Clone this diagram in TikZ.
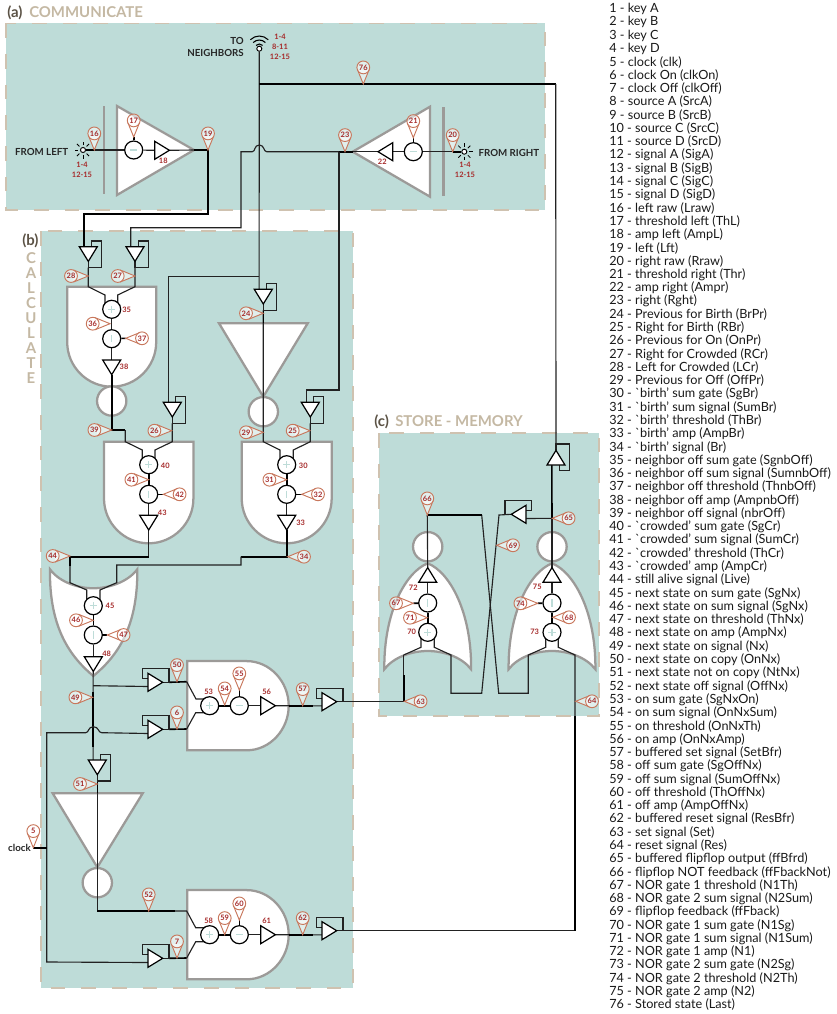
\documentclass[tikz,border=0pt]{standalone}
\usepackage{fontspec}
\setmainfont{Lato}
\usetikzlibrary{calc}
\definecolor{panelc}{HTML}{BEDCD8}
\definecolor{dashc}{HTML}{CFC2B0}
\definecolor{grayg}{HTML}{9C9A98}
\definecolor{pinc}{HTML}{C8775C}
\definecolor{pintxt}{HTML}{A62B2B}
\definecolor{headd}{HTML}{5B5245}
\definecolor{headl}{HTML}{C4B8A3}
\definecolor{wirec}{HTML}{222222}
\pgfdeclarelayer{panel}\pgfdeclarelayer{gates}\pgfdeclarelayer{wires}
\pgfsetlayers{panel,gates,wires,main}
\tikzset{
 panelbox/.style={fill=panelc,draw=dashc,line width=1.2pt,dash pattern=on 11pt off 12pt},
 gatebox/.style={draw=grayg,fill=white,line width=1.7pt,line join=miter},
 bar/.style={draw=grayg,line width=2pt},
 hollow/.style={circle,draw=grayg,fill=white,line width=1.7pt,minimum size=22pt,inner sep=0pt},
 wire/.style={draw=wirec,line width=.85pt,line join=miter},
 bwire/.style={draw=black,line width=1.2pt,line join=miter},
 ampt/.style={draw=black,fill=white,line width=.9pt,line join=miter},
 sumn/.style={circle,draw=black,fill=white,line width=.9pt,minimum size=13.5pt,inner sep=0pt},
 signl/.style={draw=panelc,line width=.8pt},
 pinnode/.style={circle,draw=pinc,fill=white,fill opacity=.55,text opacity=1,line width=.7pt,minimum size=9.6pt,inner sep=0pt,text=pintxt,font=\fontsize{5.6}{6}\selectfont\bfseries},
 pinfill/.style={fill=white,fill opacity=.55},
 pintri/.style={draw=pinc,line width=.7pt,line join=miter},
 redlab/.style={text=pintxt,font=\fontsize{5.6}{6.5}\selectfont\bfseries,inner sep=0pt},
 blklab/.style={text=black!85,font=\fontsize{7.3}{8}\selectfont\bfseries,inner sep=0pt},
 legendt/.style={anchor=west,inner sep=0pt,text=black!90,font=\fontsize{9.5}{10}\selectfont},
 headt/.style={anchor=west,inner sep=0pt,font=\fontsize{11.2}{12}\selectfont\bfseries},
 srcn/.style={circle,draw=black,fill=white,line width=.7pt,minimum size=3.8pt,inner sep=0pt},
}
% feedback amplifier: name x y transform
\newcommand\fbamp[4]{\begin{scope}[shift={(#2,#3)},#4]
 \coordinate (#1-i) at (0,0);\coordinate (#1-a) at (-4.2,0);\coordinate (#1-o) at (0,14.7);\coordinate (#1-f) at (0,21);
 \draw[wire] (3.4,0) -- (3.4,-5.7) -- (13.4,-5.7) -- (13.4,21) -- (0,21) -- (0,14.7);
 \draw[ampt] (-9,0) -- (9,0) -- (0,14.7) -- cycle;
\end{scope}}
% plain amplifier
\newcommand\plamp[4]{\begin{scope}[shift={(#2,#3)},#4]
 \coordinate (#1-i) at (0,0);\coordinate (#1-o) at (0,14.7);
 \draw[ampt] (-9,0) -- (9,0) -- (0,14.7) -- cycle;
\end{scope}}
\newcommand\sump[3]{\node[sumn] (#1) at (#2,#3) {};\draw[signl] ($(#1)+(-3.7,0)$) -- ($(#1)+(3.7,0)$) ($(#1)+(0,-3.7)$) -- ($(#1)+(0,3.7)$);}
\newcommand\summ[3]{\node[sumn] (#1) at (#2,#3) {};\draw[signl] ($(#1)+(-3.7,0)$) -- ($(#1)+(3.7,0)$);}
\newcommand\sumb[3]{\node[sumn] (#1) at (#2,#3) {};\draw[signl] ($(#1)+(0,-3.7)$) -- ($(#1)+(0,3.7)$);}
% pin: number, tip x, tip y, centre dx, centre dy
\newcommand\pin[5]{\coordinate (t#1) at (#2,#3);
 \coordinate (ta#1) at ($(t#1)+({.858*(#4)-.349*(#5)},{.858*(#5)+.349*(#4)})$);
 \coordinate (tb#1) at ($(t#1)+({.858*(#4)+.349*(#5)},{.858*(#5)-.349*(#4)})$);
 \path[pinfill] (t#1) -- (ta#1) -- (tb#1) -- cycle;
 \path[pintri] (ta#1) -- (t#1) -- (tb#1);
 \node[pinnode] (p#1) at ($(t#1)+(#4,#5)$) {#1};}
\newcommand\pinU[3]{\pin{#1}{#2}{#3}{0}{-16.6}}
\newcommand\pinL[3]{\pin{#1}{#2}{#3}{-17.3}{0}}
\newcommand\pinR[3]{\pin{#1}{#2}{#3}{16.3}{0}}
% U gate: centre x, top, half width, total height
\newcommand\ugate[4]{\pgfmathsetmacro\ul{#1-#3}\pgfmathsetmacro\ur{#1+#3}\pgfmathsetmacro\um{#2+#4-#3}\pgfmathsetmacro\ub{#2+#4}\pgfmathsetmacro\uk{.55*#3}
 \draw[gatebox] (\ul,#2) -- (\ur,#2) -- (\ur,\um) .. controls (\ur,\um+\uk) and (#1+\uk,\ub) .. (#1,\ub) .. controls (#1-\uk,\ub) and (\ul,\um+\uk) .. (\ul,\um) -- cycle;}
% AND gate facing right: centre y
\newcommand\andgate[1]{\draw[gatebox] (187.3,#1-44.6) -- (246.7,#1-44.6) .. controls (270,#1-44.6) and (288.7,#1-24) .. (288.7,#1) .. controls (288.7,#1+24) and (270,#1+44.6) .. (246.7,#1+44.6) -- (187.3,#1+44.6) -- cycle;}
% NOR gate pointing up: centre x
\newcommand\norgate[1]{\draw[gatebox] (#1,563.3) .. controls (#1-22,572) and (#1-44,612) .. (#1-43.4,669.3) .. controls (#1-34,657) and (#1-16,651) .. (#1,651) .. controls (#1+16,651) and (#1+34,657) .. (#1+43.4,669.3) .. controls (#1+44,612) and (#1+22,572) .. (#1,563.3) -- cycle;}
\newcommand\lightsrc[3]{\node[srcn] (#1) at (#2,#3) {};
 \foreach \ra in {0,45,...,315}{\draw[draw=black,line width=.6pt] ($(#1)+(\ra:5)$) -- ($(#1)+(\ra:8.5)$);}}
\begin{document}
\begin{tikzpicture}[x=.75pt,y=-.75pt]
\useasboundingbox (0,0) rectangle (836,1014);
% ---------- panels ----------
\begin{pgfonlayer}{panel}
\path[panelbox] (6,23.3) rectangle (545,210);
\path[panelbox] (41,231) rectangle (352.7,988);
\path[panelbox] (379,433) rectangle (599,716);
\end{pgfonlayer}
\node[headt,text=headd] (ha) at (7,12.5) {(a)};
\node[headt,text=headl] (hat) at (29,12.5) {COMMUNICATE};
\node[headt,text=headd] (hb) at (22,240.5) {(b)};
\foreach \ch [count=\ci] in {C,A,L,C,U,L,A,T,E}{
 \node[inner sep=0pt,text=headl,font=\fontsize{11.2}{12}\selectfont\bfseries] (vc\ci) at (31,243+15*\ci) {\ch};}
\node[headt,text=headd] (hc) at (374,421.5) {(c)};
\node[headt,text=headl] (hct) at (395,421.5) {STORE - MEMORY};
% ---------- gates ----------
\begin{pgfonlayer}{gates}
\draw[gatebox] (117,106) -- (194,150) -- (117,195) -- cycle;
\draw[bar] (104,106) -- (104,194);
\draw[gatebox] (430,106.7) -- (352.7,151.7) -- (430,196.7) -- cycle;
\draw[bar] (443.3,107) -- (443.3,196);
\ugate{111.7}{286.7}{44.5}{100}
\node[hollow] (h35) at (111.7,401) {};
\ugate{148.7}{441.7}{44.7}{101.6}
\ugate{286.7}{441.7}{45}{101.6}
\draw[gatebox] (219,323.3) -- (307.7,323.3) -- (263.3,396.7) -- cycle;
\node[hollow] (h24) at (263.3,411.7) {};
\draw[gatebox] (50,569.3) .. controls (60,583) and (80,588.3) .. (93.3,588.3) .. controls (107,588.3) and (127,583) .. (137.3,569.3) .. controls (138,630) and (115,658) .. (93.3,676) .. controls (72,658) and (49,630) .. (50,569.3) -- cycle;
\andgate{705.7}
\draw[gatebox] (52.7,793.3) -- (142.7,793.3) -- (97.3,867.3) -- cycle;
\node[hollow] (h51) at (97.3,882.7) {};
\andgate{934.7}
\norgate{427.7}
\norgate{552}
\node[hollow] (h72) at (427.7,546.7) {};
\node[hollow] (h75) at (552,546.7) {};
\end{pgfonlayer}
% ---------- components ----------
\lightsrc{srcL}{83}{150}
\lightsrc{srcR}{464.3}{151.7}
\summ{s17}{133.7}{150}
\plamp{a18}{154.7}{150.3}{rotate=90}
\coordinate (apL) at (194,150);
\coordinate (apR) at (352.7,151.7);
\summ{s21}{413.3}{151.7}
\plamp{a22}{392.7}{151.7}{rotate=-90}
\node[srcn] (ant) at (259.3,48.7) {};
\foreach \rr in {3.5,6.5,9.5}{\draw[draw=black,line width=.8pt] ([shift={(45:\rr pt)}]ant) arc[start angle=45,end angle=135,radius=\rr pt];}
\fbamp{a28}{88.3}{246.7}{}
\fbamp{a27}{135}{246.7}{}
\fbamp{a24}{263.3}{289.3}{}
\fbamp{a26}{172.3}{402.3}{}
\fbamp{a25}{310.3}{402.3}{}
\fbamp{a50}{148}{682.3}{rotate=90}
\fbamp{a6}{148}{729.3}{rotate=90}
\fbamp{a57}{322}{701.7}{rotate=90}
\fbamp{a51}{97.3}{760}{}
\fbamp{a7}{148}{958.3}{rotate=90}
\fbamp{a62}{322}{930.7}{rotate=90}
\fbamp{a65}{556}{465}{rotate=180,xscale=-1}
\fbamp{a69}{526}{514.3}{rotate=-90,xscale=-1}
\sump{s35}{111.7}{309.3}
\sumb{s37}{111.7}{338.7}
\plamp{a38}{111.7}{360}{}
\sump{s40}{148.7}{464.7}
\sumb{s42}{148.7}{494.3}
\plamp{a43}{148.7}{515.3}{}
\sump{s30}{286.7}{464.7}
\sumb{s32}{286.7}{494.3}
\plamp{a33}{286.7}{515.3}{}
\sump{s45}{93.3}{605.7}
\sumb{s47}{93.3}{635}
\plamp{a48}{93.3}{656.7}{}
\sump{s53}{209.7}{705.7}
\summ{s55}{239.3}{705.7}
\plamp{a56}{260.7}{705.7}{rotate=90}
\sump{s58}{209.7}{934.7}
\summ{s60}{239.3}{934.7}
\plamp{a61}{260.7}{934.7}{rotate=90}
\sump{s70}{427.7}{632.3}
\sumb{s67}{427.7}{603}
\plamp{a72}{427.7}{582.3}{rotate=180}
\sump{s73}{552}{632.3}
\sumb{s74}{552}{603}
\plamp{a75}{552}{582.3}{rotate=180}
% ---------- pins ----------
\pinU{16}{94.3}{150}
\pinU{17}{133.7}{137}
\pinU{19}{208}{150}
\pinU{20}{452.7}{151.7}
\pinU{21}{413.3}{137.7}
\pinU{23}{345}{151.7}
\pinU{76}{363.3}{84}
\pinL{28}{88.3}{276}
\pinL{27}{135}{276}
\pinL{36}{110}{323.7}
\pinR{37}{125.7}{338.3}
\pinL{24}{263.3}{313.3}
\pinL{39}{111.7}{430}
\pinL{26}{171.7}{430.7}
\pinL{29}{263.3}{432.3}
\pinL{25}{310}{430.7}
\pinL{41}{148.7}{479.7}
\pinL{31}{286.7}{479.7}
\pinR{42}{163.3}{494.3}
\pinR{32}{301.7}{494.3}
\pinL{44}{70}{556}
\pinR{34}{287.7}{556.7}
\pinL{46}{93.3}{620.3}
\pinR{47}{107.3}{635}
\pinL{49}{92.7}{697.3}
\pinU{50}{177}{681.7}
\pinU{6}{177}{729}
\pinU{54}{224.7}{705}
\pinU{55}{239.3}{690}
\pinU{57}{302.7}{705.7}
\pinL{51}{97.3}{784}
\pinU{5}{33.3}{847.7}
\pinU{52}{148.7}{911}
\pinU{59}{224.7}{934.7}
\pinU{60}{239.3}{920}
\pinU{62}{302.7}{934.7}
\pinU{7}{177}{958}
\pinU{66}{427.3}{515}
\pinR{69}{496.7}{545.3}
\pinR{65}{552.3}{518.3}
\pinL{67}{413.3}{603.3}
\pinL{71}{427.3}{617.7}
\pinL{74}{537.7}{603.3}
\pinR{68}{552.7}{617.3}
\pinR{63}{404.3}{701.3}
\pinR{64}{575.7}{701.3}
% ---------- wires ----------
\begin{pgfonlayer}{wires}
\draw[wire] (srcL) -- (s17);
\draw[wire] (s17) -- (a18-i);
\draw[wire] (a18-o) -- (apL);
\draw[bwire] (t17) -- (s17);
\draw[bwire] (srcL) -- (t16);
\draw[bwire] (apL) -- (t19) -- (208,214) -- (84.1,214) -- (a28-a);
\draw[wire] (srcR) -- (s21);
\draw[wire] (s21) -- (a22-i);
\draw[wire] (a22-o) -- (apR);
\draw[bwire] (t21) -- (s21);
\draw[bwire] (srcR) -- (t20);
\draw[wire] (apR) -- (339,151.7) -- (266.7,151.7) .. controls (263.5,151.7) and (264.5,145) .. (259.3,145) .. controls (254,145) and (255.5,151.7) .. (252.3,151.7) -- (241,151.7) -- (241,227.7) -- (130.8,227.7) -- (a27-a);
\draw[bwire] (apR) -- (339,151.7);
\draw[wire] (339,151.7) -- (339,390) -- (306.1,390) -- (a25-a);
\draw[wire] (ant) -- (a24-a);
\draw[bwire] (259.1,84) -- (555.7,84);
\draw[wire] (555.7,84) -- (a65-o);
\draw[wire] (259.1,276.7) -- (168.1,276.7) -- (a26-a);
% calculate: neighbour off
\draw[wire] (a28-f) -- (88.3,286.7) -- (105,295) -- (105,306) -- (s35);
\draw[wire] (a27-f) -- (135,286.7) -- (117.7,295) -- (117.7,306) -- (s35);
\draw[wire] (s35) -- (s37);
\draw[wire] (s37) -- (a38-i);
\draw[bwire] (s37) -- (t37);
\draw[bwire] (a38-o) -- (111.7,430) -- (125.3,430);
\draw[wire] (125.3,430) -- (125.3,441.7) -- (142.3,450) -- (142.3,461) -- (s40);
\draw[wire] (a26-f) -- (172.3,441.7) -- (155,450) -- (155,461) -- (s40);
\draw[bwire] (s40) -- (s42);
\draw[bwire] (s42) -- (t42);
\draw[wire] (s42) -- (a43-i);
\draw[wire] (a43-o) -- (148.7,556.7);
\draw[bwire] (148.7,556.7) -- (70,556.7) -- (70,566);
\draw[wire] (70,566) -- (70,582.7) -- (86.7,590) -- (86.7,602) -- (s45);
\draw[wire] (a24-f) -- (263.3,441.7) -- (280,450) -- (280,461) -- (s30);
\draw[bwire] (263.3,304) -- (a24-f) -- (263.3,323);
\draw[wire] (a25-f) -- (310.3,441.7) -- (293.3,450) -- (293.3,461) -- (s30);
\draw[bwire] (s30) -- (s32);
\draw[bwire] (s32) -- (t32);
\draw[wire] (s32) -- (a33-i);
\draw[bwire] (a33-o) -- (286.7,556.7) -- (241,556.7);
\draw[wire] (241,556.7) -- (241,565) -- (116.7,565) -- (116.7,582.7) -- (100,590) -- (100,602) -- (s45);
\draw[bwire] (s45) -- (s47);
\draw[bwire] (s47) -- (t47);
\draw[wire] (s47) -- (a48-i);
\draw[wire] (a48-o) -- (93.1,676) -- (a51-a);
\draw[bwire] (93.1,692) -- (93.1,747);
\draw[wire] (93.1,685.7) -- (a50-a);
\draw[wire] (a6-a) -- (101.7,732.7) .. controls (98,732.7) and (99,726.7) .. (93.3,726.7) .. controls (88,726.7) and (89,732.7) .. (85.7,732.7) -- (46.7,732.7) -- (46.7,962) -- (a7-a);
\draw[bwire] (t5) -- (46.7,847.7);
\draw[bwire] (a50-f) -- (186.7,681.7);
\draw[wire] (186.7,681.7) -- (196,699) -- (205,699) -- (s53);
\draw[bwire] (a6-f) -- (186.7,729);
\draw[wire] (186.7,729) -- (195.7,712.7) -- (205,712.7) -- (s53);
\draw[bwire] (s53) -- (s55);
\draw[bwire] (t55) -- (s55);
\draw[wire] (s55) -- (a56-i);
\draw[wire] (a56-o) -- (a57-a);
\draw[bwire] (288.7,705.7) -- (313,705.7);
\draw[wire] (a57-f) -- (403.7,701.7) -- (403.7,655);
\draw[bwire] (403.7,701.7) -- (403.7,675);
\draw[wire] (403.7,655) -- (421,647.3) -- (421,638) -- (s70);
% calculate: off path
\draw[bwire] (a51-f) -- (97.3,793);
\draw[wire] (97.3,793) -- (97.3,911);
\draw[bwire] (97.3,911) -- (175,911);
\draw[wire] (175,911) -- (186.7,911) -- (195.7,927.7) -- (205,927.7) -- (s58);
\draw[bwire] (a7-f) -- (186.7,958);
\draw[wire] (186.7,958) -- (195.7,941.7) -- (205,941.7) -- (s58);
\draw[bwire] (s58) -- (s60);
\draw[bwire] (t60) -- (s60);
\draw[wire] (s60) -- (a61-i);
\draw[wire] (a61-o) -- (a62-a);
\draw[bwire] (288.7,934.7) -- (313,934.7);
\draw[wire] (a62-f) -- (575,930.7);
\draw[bwire] (575,930.7) -- (575,716);
\draw[wire] (575,716) -- (575,655) -- (558.3,647.3) -- (558.3,638) -- (s73);
% store
\draw[bwire] (s70) -- (s67);
\draw[bwire] (s67) -- (t67);
\draw[wire] (s67) -- (a72-i);
\draw[bwire] (s73) -- (s74);
\draw[bwire] (s74) -- (t74);
\draw[wire] (s74) -- (a75-i);
\draw[wire] (a75-o) -- (552,518);
\draw[bwire] (552,518) -- (a65-a);
\draw[wire] (s73) -- (545.7,638) -- (545.7,647.3) -- (528.3,655) -- (528.3,693.3) -- (498.7,693.3) -- (481.7,515);
\draw[bwire] (481.7,515) -- (t66);
\draw[wire] (t66) -- (a72-o);
\draw[wire] (s70) -- (434.3,638) -- (434.3,647.3) -- (451,655) -- (451,693.3) -- (481.7,693.3) -- (499,515) -- (a69-o);
\draw[wire] (a69-a) -- (t65);
\end{pgfonlayer}
% ---------- texts ----------
\node[blklab,anchor=east] (fl) at (68.5,152) {FROM LEFT};
\node[blklab,anchor=west] (fr) at (478.3,153.3) {FROM RIGHT};
\node[blklab,anchor=east] (to) at (244,40.7) {TO};
\node[blklab,anchor=east] (ng) at (244,53.3) {NEIGHBORS};
\node[blklab,anchor=east] (ck) at (31,848) {clock};
\node[redlab] (r1) at (82,164.3) {1-4};
\node[redlab] (r2) at (82,174.3) {12-15};
\node[redlab] (r3) at (465,165) {1-4};
\node[redlab] (r4) at (465,175) {12-15};
\node[redlab] (r5) at (280,36.3) {1-4};
\node[redlab] (r6) at (280,46.3) {8-11};
\node[redlab] (r7) at (280,56.3) {12-15};
\node[redlab] (l18) at (163.3,160.3) {18};
\node[redlab] (l22) at (382.3,161.3) {22};
\node[redlab] (l35) at (126.7,309.3) {35};
\node[redlab] (l38) at (124,366.3) {38};
\node[redlab] (l40) at (165.3,465.3) {40};
\node[redlab] (l43) at (162.3,512.7) {43};
\node[redlab] (l30) at (303.3,465.3) {30};
\node[redlab] (l33) at (300.7,522.3) {33};
\node[redlab] (l45) at (110,606) {45};
\node[redlab] (l48) at (106.7,653.3) {48};
\node[redlab] (l53) at (208.7,691.7) {53};
\node[redlab] (l56) at (266.7,691.7) {56};
\node[redlab] (l58) at (208.7,920.7) {58};
\node[redlab] (l61) at (266.7,920.7) {61};
\node[redlab] (l72) at (413.3,587.3) {72};
\node[redlab] (l70) at (411.7,632) {70};
\node[redlab] (l75) at (537.3,587.3) {75};
\node[redlab] (l73) at (534.7,632) {73};
\foreach \txt [count=\li] in {
1 - key A,2 - key B,3 - key C,4 - key D,5 - clock (clk),6 - clock On (clkOn),7 - clock Off (clkOff),
8 - source A (SrcA),9 - source B (SrcB),10 - source C (SrcC),11 - source D (SrcD),
12 - signal A (SigA),13 - signal B (SigB),14 - signal C (SigC),15 - signal D (SigD),
16 - left raw (Lraw),17 - threshold left (ThL),18 - amp left (AmpL),19 - left (Lft),
20 - right raw (Rraw),21 - threshold right (Thr),22 - amp right (Ampr),23 - right (Rght),
24 - Previous for Birth (BrPr),25 - Right for Birth (RBr),26 - Previous for On (OnPr),
27 - Right for Crowded (RCr),28 - Left for Crowded (LCr),29 - Previous for Off (OffPr),
30 - \textasciigrave birth’ sum gate (SgBr),31 - \textasciigrave birth’ sum signal (SumBr),
32 - \textasciigrave birth’ threshold (ThBr),33 - \textasciigrave birth’ amp (AmpBr),34 - \textasciigrave birth’ signal (Br),
35 - neighbor off sum gate (SgnbOff),36 - neighbor off sum signal (SumnbOff),
37 - neighbor off threshold (ThnbOff),38 - neighbor off amp (AmpnbOff),39 - neighbor off signal (nbrOff),
40 - \textasciigrave crowded’ sum gate (SgCr),41 - \textasciigrave crowded’ sum signal (SumCr),
42 - \textasciigrave crowded’ threshold (ThCr),43 - \textasciigrave crowded’ amp (AmpCr),
44 - still alive signal (Live),45 - next state on sum gate (SgNx),46 - next state on sum signal (SgNx),
47 - next state on threshold (ThNx),48 - next state on amp (AmpNx),49 - next state on signal (Nx),
50 - next state on copy (OnNx),51 - next state not on copy (NtNx),52 - next state off signal (OffNx),
53 - on sum gate (SgNxOn),54 - on sum signal (OnNxSum),55 - on threshold (OnNxTh),56 - on amp (OnNxAmp),
57 - buffered set signal (SetBfr),58 - off sum gate (SgOffNx),59 - off sum signal (SumOffNx),
60 - off threshold (ThOffNx),61 - off amp (AmpOffNx),62 - buffered reset signal (ResBfr),
63 - set signal (Set),64 - reset signal (Res),65 - buffered flipflop output (ffBfrd),
66 - flipflop NOT feedback (ffFbackNot),67 - NOR gate 1 threshold (N1Th),68 - NOR gate 2 sum signal (N2Sum),
69 - flipflop feedback (ffFback),70 - NOR gate 1 sum gate (N1Sg),71 - NOR gate 1 sum signal (N1Sum),
72 - NOR gate 1 amp (N1),73 - NOR gate 2 sum gate (N2Sg),74 - NOR gate 2 threshold (N2Th),
75 - NOR gate 2 amp (N2),76 - Stored state (Last)}{
 \node[legendt] (leg\li) at (609,9+13.28*\li-13.28) {\txt};}
\end{tikzpicture}
\end{document}
